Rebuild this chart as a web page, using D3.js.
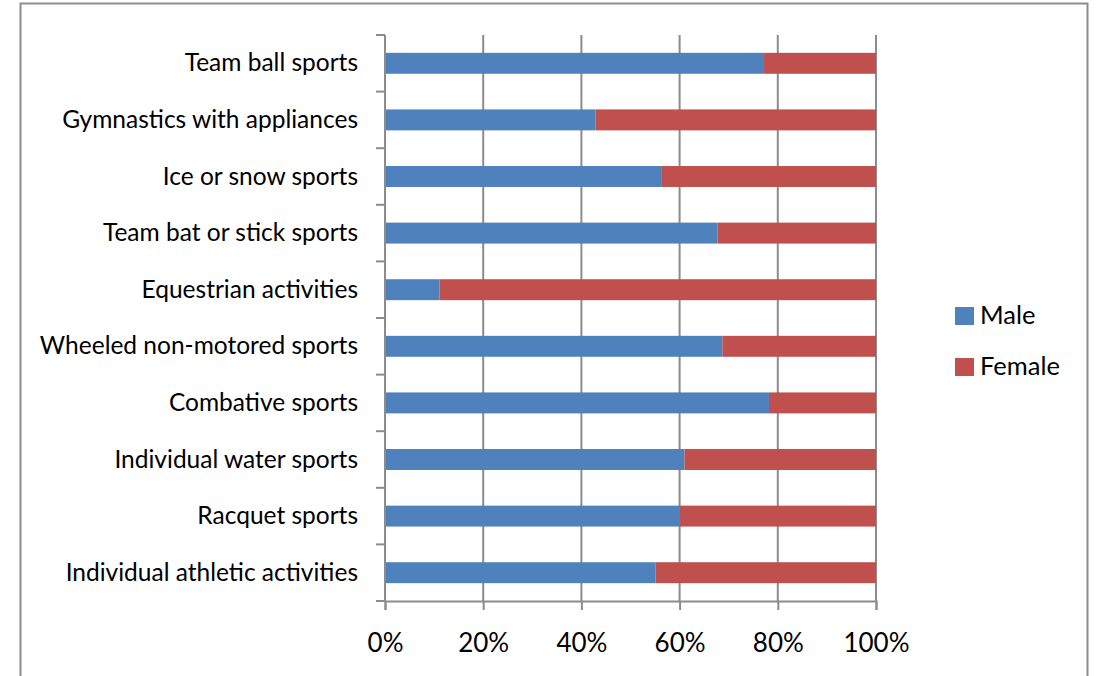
<!DOCTYPE html>
<html>
<head>
<meta charset="utf-8">
<script src="https://cdn.jsdelivr.net/npm/d3@7"></script>
<style>
  body { margin: 0; background: #fff; }
  svg text { font-family: Lato, "Open Sans", sans-serif; fill: #000; }
</style>
</head>
<body>
<script>
const categories = [
  'Team ball sports',
  'Gymnastics with appliances',
  'Ice or snow sports',
  'Team bat or stick sports',
  'Equestrian activities',
  'Wheeled non-motored sports',
  'Combative sports',
  'Individual water sports',
  'Racquet sports',
  'Individual athletic activities'
]
// share of participants, in percent
const male = [77.2, 42.9, 56.4, 67.7, 11.1, 68.7, 78.2, 61.0, 60.0, 55.1]
const female = male.map(m => 100 - m)
const seriesNames = ['Male', 'Female']
const colors = ['#4f81bd', '#c0504d']
const xTicks = [0, 20, 40, 60, 80, 100]

const width = 1100
const height = 676
const margin = { left: 385, right: 224, top: 35, bottom: 75 }

const svg = d3.select('body').append('svg')
  .attr('width', width)
  .attr('height', height)

// outer frame
svg.append('rect')
  .attr('x', 20.5).attr('y', 3.5)
  .attr('width', 1067).attr('height', 700)
  .attr('fill', 'none')
  .attr('stroke', '#8c8c8c')
  .attr('stroke-width', 2)

const xScale = d3.scaleLinear()
  .domain([0, 100])
  .range([margin.left, width - margin.right])

const yScale = d3.scaleBand()
  .domain(categories)
  .range([margin.top, height - margin.bottom])
  .paddingInner(0.63)
  .paddingOuter(0.315)

const bandStep = yScale.step()

// vertical gridlines
svg.append('g')
  .selectAll('line')
  .data(xTicks.slice(1))
  .enter()
  .append('line')
  .attr('x1', d => xScale(d)).attr('x2', d => xScale(d))
  .attr('y1', margin.top).attr('y2', height - margin.bottom)
  .attr('stroke', '#8c8c8c')
  .attr('stroke-width', 2)

// stacked bars
const stackData = categories.map((c, i) => ({ cat: c, Male: male[i], Female: female[i] }))
const stacked = d3.stack().keys(seriesNames)(stackData)

svg.append('g')
  .selectAll('g')
  .data(stacked)
  .enter()
  .append('g')
  .attr('fill', (d, i) => colors[i])
  .selectAll('rect')
  .data(d => d)
  .enter()
  .append('rect')
  .attr('x', d => xScale(d[0]))
  .attr('width', d => xScale(d[1]) - xScale(d[0]))
  .attr('y', d => yScale(d.data.cat))
  .attr('height', yScale.bandwidth())

// x axis
const xAxis = d3.axisBottom(xScale)
  .tickValues(xTicks)
  .tickFormat(d => d + '%')
  .tickSize(9)
  .tickPadding(24)

const gx = svg.append('g')
  .attr('transform', `translate(0,${height - margin.bottom})`)
  .call(xAxis)
gx.select('.domain').attr('stroke', '#8c8c8c').attr('stroke-width', 2)
gx.selectAll('.tick line').attr('stroke', '#8c8c8c').attr('stroke-width', 2)
gx.selectAll('.tick text').attr('font-size', 26).style('font-family', 'Lato, sans-serif')

// y axis: ticks sit between categories
const yAxisG = svg.append('g')
yAxisG.append('line')
  .attr('x1', margin.left).attr('x2', margin.left)
  .attr('y1', margin.top).attr('y2', height - margin.bottom)
  .attr('stroke', '#8c8c8c').attr('stroke-width', 2)
yAxisG.selectAll('.ytick')
  .data(d3.range(categories.length + 1))
  .enter()
  .append('line')
  .attr('class', 'ytick')
  .attr('x1', margin.left - 9).attr('x2', margin.left)
  .attr('y1', i => margin.top + i * bandStep)
  .attr('y2', i => margin.top + i * bandStep)
  .attr('stroke', '#8c8c8c').attr('stroke-width', 2)

yAxisG.selectAll('.ylabel')
  .data(categories)
  .enter()
  .append('text')
  .attr('class', 'ylabel')
  .attr('x', 358)
  .attr('y', d => yScale(d) + yScale.bandwidth() / 2)
  .attr('dy', '0.33em')
  .attr('text-anchor', 'end')
  .attr('font-size', 24.5)
  .text(d => d)

// legend
const legend = svg.append('g')
  .selectAll('g')
  .data(seriesNames)
  .enter()
  .append('g')
  .attr('transform', (d, i) => `translate(955,${307 + i * 51})`)
legend.append('rect')
  .attr('width', 19).attr('height', 18)
  .attr('fill', (d, i) => colors[i])
legend.append('text')
  .attr('x', 25).attr('y', 9)
  .attr('dy', '0.33em')
  .attr('font-size', 25.5)
  .text(d => d)
</script>
</body>
</html>
